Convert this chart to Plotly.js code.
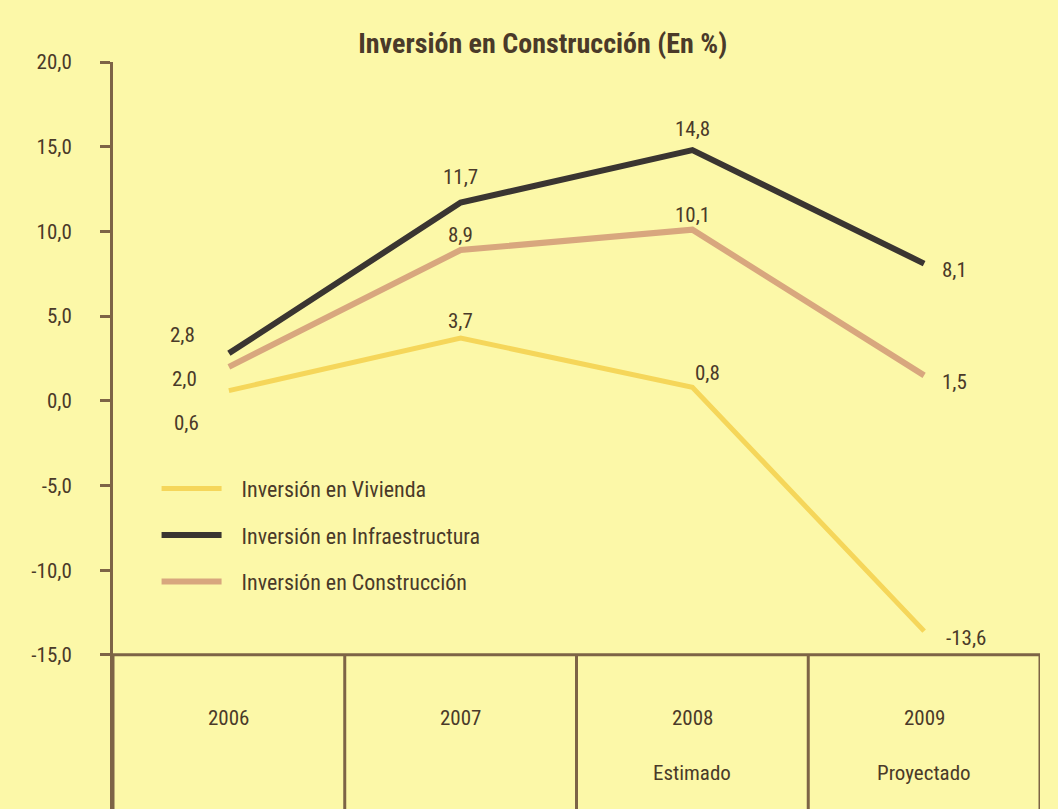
<!DOCTYPE html>
<html>
<head>
<meta charset="utf-8">
<script src="https://cdn.plot.ly/plotly-3.0.1.min.js"></script>
<style>
html,body{margin:0;padding:0;background:#fcf8a8;}
#chart{width:1058px;height:809px;}
#chart .legendtext{transform:translateX(15px);}
#chart .legend .scrollbox{clip-path:none !important;}
</style>
</head>
<body>
<div id="chart"></div>
<script>
// ---- data ----
const years = ["2006", "2007", "2008", "2009"];
const yearNotes = ["", "", "Estimado", "Proyectado"];
const vivienda = [0.6, 3.7, 0.8, -13.6];
const infraestructura = [2.8, 11.7, 14.8, 8.1];
const construccion = [2.0, 8.9, 10.1, 1.5];
const seriesNames = ["Inversión en Vivienda", "Inversión en Infraestructura", "Inversión en Construcción"];
const yTickVals = [20, 15, 10, 5, 0, -5, -10, -15];
const yTickText = ["20,0", "15,0", "10,0", "5,0", "0,0", "-5,0", "-10,0", "-15,0"];

// ---- style ----
const FONT = "Roboto Condensed, Liberation Sans Narrow, sans-serif";
const TXT = "#4a3a29";
const AX = "#7d6446";
const BG = "#fcf8a8";
const colors = ["#f5d65a", "#3a3531", "#d8a77e"];
const widths = [5, 6, 6];
// label offsets [xshift, yshift] per series per point (pixels)
const offsets = [
  [[-42, -32], [0, 17], [15, 14], [42, -7]],
  [[-46, 18], [0, 26], [0, 21], [30, -6]],
  [[-44, -12], [0, 15], [0, 15], [30, -7]]
];

const fmt = v => v.toFixed(1).replace(".", ",");
const allSeries = [vivienda, infraestructura, construccion];

const traces = allSeries.map((s, i) => ({
  type: "scatter",
  mode: "lines",
  x: years,
  y: s,
  name: seriesNames[i],
  legendgroup: "g" + i,
  line: {color: colors[i], width: widths[i]},
  hoverinfo: "skip"
}));

// category axis: annotations are positioned by category index
const annotations = [];
allSeries.forEach((s, i) => {
  s.forEach((v, j) => {
    annotations.push({
      x: j, y: v, xref: "x", yref: "y",
      text: fmt(v), showarrow: false, yanchor: "middle",
      xshift: offsets[i][j][0], yshift: offsets[i][j][1],
      font: {family: FONT, size: 21, color: TXT}
    });
  });
});
years.forEach((yr, j) => {
  annotations.push({x: j, y: 0.122, xref: "x", yref: "paper", text: yr, showarrow: false,
    yanchor: "middle", font: {family: FONT, size: 21, color: TXT}});
  if (yearNotes[j]) {
    annotations.push({x: j, y: 0.048, xref: "x", yref: "paper", text: yearNotes[j], showarrow: false,
      yanchor: "middle", font: {family: FONT, size: 21, color: TXT}});
  }
});

const shapes = [];
// table grid under the chart
shapes.push({type: "line", xref: "x", yref: "y", x0: -0.5, x1: 3.5, y0: -15, y1: -15,
  line: {color: AX, width: 3}});
for (let k = 0; k <= years.length; k++) {
  shapes.push({type: "line", xref: "x", yref: "paper", x0: k - 0.5, x1: k - 0.5, y0: 0,
    y1: 1 - (20 - (-15)) / (20 - (-24.1)), line: {color: AX, width: 3}});
}

const layout = {
  width: 1058, height: 809,
  paper_bgcolor: BG, plot_bgcolor: BG,
  margin: {l: 113, r: 18, t: 62, b: 0},
  separators: ",.",
  title: {text: "<b>Inversión en Construcción (En %)</b>", x: 0.513, xanchor: "center",
    y: 0.947, yanchor: "middle", font: {family: FONT, size: 28, color: TXT}},
  xaxis: {type: "category", range: [-0.5, 3.5], showticklabels: false, showline: false,
    showgrid: false, zeroline: false, ticks: "", fixedrange: true},
  yaxis: {range: [-24.1, 20], tickvals: yTickVals, ticktext: yTickText,
    showgrid: false, zeroline: false, showline: true, linecolor: AX, linewidth: 3,
    ticks: "outside", ticklen: 10, tickwidth: 3, tickcolor: AX, ticklabelstandoff: 24,
    tickfont: {family: FONT, size: 21, color: TXT}, fixedrange: true},
  showlegend: true,
  legend: {x: 0.047, y: 0.457, xanchor: "left", yanchor: "top", bgcolor: "rgba(0,0,0,0)",
    font: {family: FONT, size: 22, color: TXT}, tracegroupgap: 15, itemwidth: 60,
    traceorder: "grouped"},
  annotations: annotations,
  shapes: shapes
};

Plotly.newPlot("chart", traces, layout, {displayModeBar: false, staticPlot: true});
</script>
</body>
</html>
